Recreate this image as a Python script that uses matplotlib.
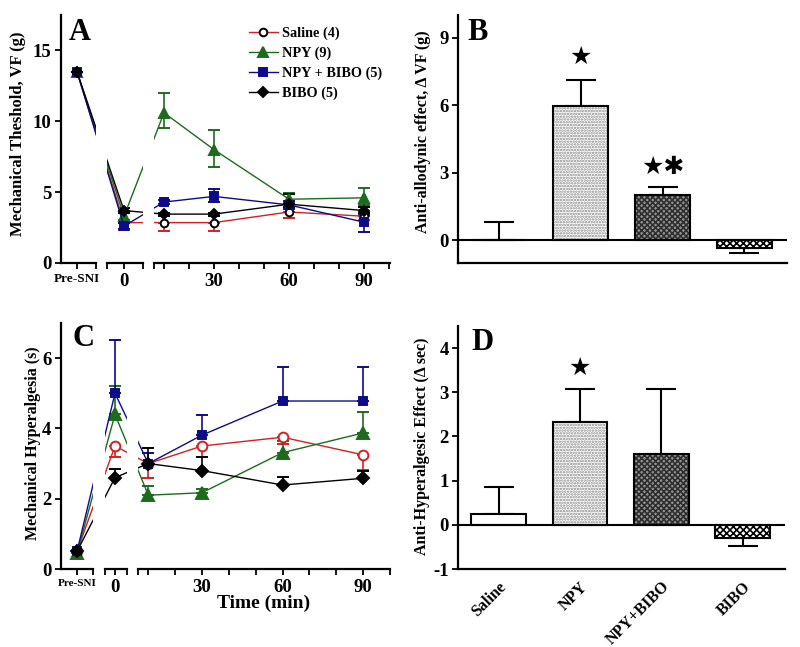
import matplotlib
matplotlib.use('Agg')
import matplotlib.pyplot as plt
from matplotlib.lines import Line2D
import numpy as np

plt.rcParams['font.family'] = ['Liberation Serif', 'DejaVu Sans']
plt.rcParams['font.weight'] = 'bold'
plt.rcParams['hatch.linewidth'] = 1.2
plt.rcParams['axes.unicode_minus'] = False

W, H = 800, 647

## the data
groups = ['Saline (4)', 'NPY (9)', 'NPY + BIBO (5)', 'BIBO (5)']
colors = ['#d42020', '#1d6b1d', '#0c0c8a', 'black']
markers = ['o', '^', 's', 'D']
times = [10, 30, 60, 90]   # min after injection

# panel A : mechanical threshold (g), order = Pre-SNI, 0, then times
a_vals = [
    [13.5, 2.85, 2.85, 2.85, 3.6, 3.3],
    [13.5, 3.3, 10.6, 8.0, 4.5, 4.6],
    [13.5, 2.6, 4.3, 4.7, 4.1, 2.88],
    [13.5, 3.7, 3.45, 3.45, 4.15, 3.7],
]
a_err_lo = [
    [0, 0.55, 0.6, 0.6, 0.45, 0.3],
    [0, 0.3, 1.1, 1.2, 0.3, 0.5],
    [0, 0.2, 0.15, 0.4, 0.3, 0.68],
    [0, 0.2, 0.1, 0.1, 0.2, 0.2],
]
a_err_hi = [
    [0, 0, 0, 0, 0, 0],
    [0, 0.3, 1.4, 1.35, 0.43, 0.7],
    [0, 0.2, 0.15, 0.5, 0.3, 0.5],
    [0, 0.2, 0.1, 0.1, 0.75, 0.25],
]

# panel C : mechanical hyperalgesia (s)
c_vals = [
    [0.5, 3.5, 3.0, 3.5, 3.75, 3.25],
    [0.45, 4.4, 2.1, 2.17, 3.31, 3.87],
    [0.5, 5.0, 3.0, 3.81, 4.78, 4.78],
    [0.5, 2.6, 3.0, 2.8, 2.39, 2.58],
]
c_err_lo = [
    [0, 0.3, 0.42, 0.32, 0.2, 0.43],
    [0, 0, 0, 0, 0, 0],
    [0, 0, 0, 0, 0, 0],
    [0, 0, 0, 0, 0, 0],
]
c_err_hi = [
    [0, 0, 0, 0, 0, 0],
    [0, 0.8, 0.26, 0.1, 0.33, 0.6],
    [0, 1.52, 0.3, 0.58, 0.98, 0.98],
    [0, 0.24, 0.43, 0.38, 0.24, 0.2],
]

# panels B and D : bars
bar_names = ['Saline', 'NPY', 'NPY+BIBO', 'BIBO']
b_vals = [0.02, 5.95, 2.0, -0.33]
b_err = [0.82, 1.15, 0.35, 0.22]
d_vals = [0.25, 2.32, 1.6, -0.3]
d_err = [0.6, 0.76, 1.47, 0.19]


fig = plt.figure(figsize=(W / 100, H / 100), dpi=100)


def pos(l, r, top, bot):
    return [l / W, 1 - bot / H, (r - l) / W, (bot - top) / H]


def broken_panel(segs, px_ref, scale, top, bot, ylim, yticks, pre_px, zero_px, pre_size):
    # one axes per x segment, same px -> minutes mapping for all of them
    u = lambda px: 30 + (px - px_ref) / scale
    axs = []
    for i, (l, r) in enumerate(segs):
        ax = fig.add_axes(pos(l, r, top, bot))
        ax.set_xlim(u(l), u(r))
        ax.set_ylim(ylim)
        ax.patch.set_alpha(0)
        for s in ['top', 'right']:
            ax.spines[s].set_visible(False)
        ax.spines['bottom'].set_linewidth(1.6)
        ax.spines['left'].set_linewidth(1.6)
        ax.tick_params(direction='out', length=4.5, width=1.3, labelsize=13.5, pad=2.5)
        if i == 0:
            ax.set_yticks(yticks)
            ax.set_xticks([u(pre_px), u(r)])
            ax.set_xticklabels(['Pre-SNI', ''], fontsize=pre_size)
        else:
            ax.spines['left'].set_visible(False)
            ax.set_yticks([])
        if i == 1:
            ax.set_xticks([u(l), u(zero_px), u(r)])
            ax.set_xticklabels(['', '0', ''])
        if i == 2:
            tk = [u(l)] + list(range(10, 101, 10))
            ax.set_xticks(tk)
            ax.set_xticklabels([str(t) if t in (30, 60, 90) else '' for t in tk])
        axs.append(ax)
    return axs, [u(pre_px), u(zero_px)] + times


def draw_lines(axs, xs, vals, lo, hi, ms, sal_edge):
    for k in range(4):
        face = 'white' if markers[k] == 'o' else colors[k]
        edge = sal_edge if markers[k] == 'o' else colors[k]
        for ax in axs:
            ax.errorbar(xs, vals[k], yerr=[lo[k], hi[k]], color=colors[k], lw=1.0,
                        marker=markers[k], ms=ms[k], mfc=face, mec=edge, mew=1.4,
                        capsize=4, capthick=1.2, elinewidth=1.2)


# ---- A
msA = [5.5, 7.5, 5.5, 5.5]
axA, xA = broken_panel([(61, 96), (107, 143), (154, 390)], 214, 2.5, 15, 263,
                       (0, 17.5), [0, 5, 10, 15], 77, 124, 9.5)
draw_lines(axA, xA, a_vals, a_err_lo, a_err_hi, msA, 'black')
fig.text(18 / W, 1 - 134 / H, 'Mechanical Theshold, VF (g)', rotation=90,
         ha='center', va='center', fontsize=12)
fig.text(80 / W, 1 - 32 / H, 'A', ha='center', va='center', fontsize=22)

handles = []
for k in range(4):
    face = 'white' if markers[k] == 'o' else colors[k]
    edge = 'black' if markers[k] == 'o' else colors[k]
    handles.append(Line2D([], [], color=colors[k], lw=1.0, marker=markers[k], ms=msA[k],
                          mfc=face, mec=edge, mew=1.4))
fig.legend(handles, groups, loc='upper left', bbox_to_anchor=(249 / W, 1 - 27 / H),
           frameon=False, fontsize=10.3, handlelength=2.0, handletextpad=0.3,
           labelspacing=0.45, borderpad=0, borderaxespad=0)

# ---- C
axC, xC = broken_panel([(61, 93), (105, 127), (138, 390)], 202, 80.5 / 30, 323, 569,
                       (0, 7), [0, 2, 4, 6], 77, 115, 8)
draw_lines(axC, xC, c_vals, c_err_lo, c_err_hi, [7, 8, 6, 6], colors[0])
fig.text(33 / W, 1 - 443 / H, 'Mechanical Hyperalgesia (s)', rotation=90,
         ha='center', va='center', fontsize=11.5)
fig.text(83 / W, 1 - 338 / H, 'C', ha='center', va='center', fontsize=22)
fig.text(264 / W, 1 - 603 / H, 'Time (min)', ha='center', va='center', fontsize=14)


# ---- bar panels
fills = [
    dict(color='white', hatch=None, hc='white'),
    dict(color='white', hatch='......', hc='#8c8c8c'),
    dict(color='#959595', hatch='xxxxxx', hc='#2f2f2f'),
    dict(color='white', hatch='xxxxx', hc='black'),
]


def bar_panel(l, r, top, bot, ylim, yticks, vals, errs):
    ax = fig.add_axes(pos(l, r, top, bot))
    x = np.arange(len(vals))
    for i in range(len(vals)):
        f = fills[i]
        ax.bar(x[i], vals[i], width=0.67, color=f['color'], edgecolor=f['hc'],
               hatch=f['hatch'], linewidth=0, zorder=2)
        ax.bar(x[i], vals[i], width=0.67, fill=False, edgecolor='black', linewidth=1.5, zorder=3)
        lo = errs[i] if vals[i] < 0 else 0
        hi = errs[i] if vals[i] >= 0 else 0
        ax.errorbar(x[i], vals[i], yerr=[[lo], [hi]], color='black', lw=0, elinewidth=1.5,
                    capsize=10.5, capthick=1.5, zorder=1)
    ax.axhline(0, color='black', lw=1.5, zorder=4)
    ax.set_xlim(-0.5, 3.52)
    ax.set_ylim(ylim)
    ax.set_yticks(yticks)
    for s in ['top', 'right']:
        ax.spines[s].set_visible(False)
    ax.spines['bottom'].set_linewidth(1.6)
    ax.spines['left'].set_linewidth(1.6)
    ax.tick_params(axis='y', direction='out', length=4.5, width=1.3, labelsize=13.5, pad=2)
    ax.tick_params(axis='x', length=0)
    ax.patch.set_alpha(0)
    return ax, x


axB, xB = bar_panel(458, 787, 15, 263, (-1, 10), [0, 3, 6, 9], b_vals, b_err)
axB.set_xticks([])
axB.text(xB[1], 8.15, '★', ha='center', va='center', fontsize=18, family='DejaVu Sans')
axB.text(xB[2], 3.25, '★✱', ha='center', va='center', fontsize=18, family='DejaVu Sans')
fig.text(423 / W, 1 - 132 / H, 'Anti-allodynic effect, Δ VF (g)', rotation=90,
         ha='center', va='center', fontsize=11.5)
fig.text(478 / W, 1 - 32 / H, 'B', ha='center', va='center', fontsize=22)

axD, xD = bar_panel(458, 785, 326, 569, (-1, 4.5), [-1, 0, 1, 2, 3, 4], d_vals, d_err)
axD.set_xticks(xD)
axD.set_xticklabels(bar_names, rotation=45, ha='right', rotation_mode='anchor', fontsize=11.5)
axD.tick_params(axis='x', pad=7)
axD.text(xD[1], 3.55, '★', ha='center', va='center', fontsize=18, family='DejaVu Sans')
fig.text(422 / W, 1 - 446 / H, 'Anti-Hyperalgesic Effect (Δ sec)', rotation=90,
         ha='center', va='center', fontsize=11.5)
fig.text(482 / W, 1 - 343 / H, 'D', ha='center', va='center', fontsize=22)

fig.savefig('out.png', dpi=100)
